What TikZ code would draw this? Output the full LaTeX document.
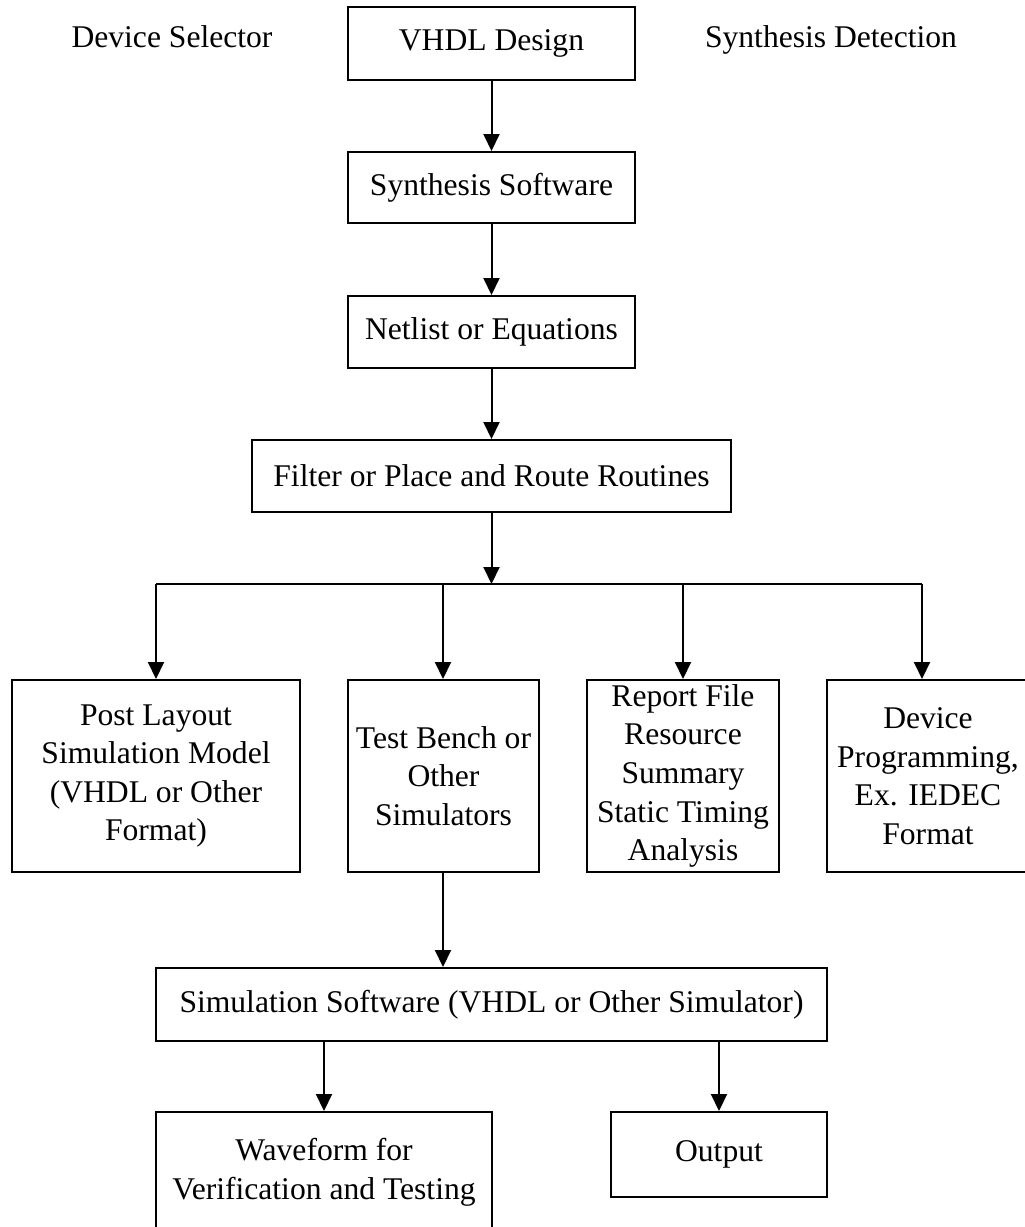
\documentclass[tikz,border=0pt]{standalone}
\usepackage{fontspec}
\setmainfont{Liberation Serif}
\usetikzlibrary{arrows.meta}
\begin{document}
\begin{tikzpicture}[x=0.5pt,y=-0.5pt,
  txt/.style={font=\fontsize{15.8}{19.3}\selectfont},
  box/.style={txt, draw, line width=1pt, align=center, inner sep=0pt},
  lbl/.style={txt, inner sep=0pt, anchor=base},
  wire/.style={line width=1pt},
  link/.style={wire, -{Triangle[length=8.5pt,width=8pt]}}]
\useasboundingbox (0,0) rectangle (1024,1227);

% top annotations
\node[lbl] (devsel) at (172,47) {Device Selector};
\node[lbl] (syndet) at (831,47) {Synthesis Detection};

% main flow
\node[box, minimum width=143.5pt, minimum height=36.5pt] (vhdl)    at (491.5,43.5) {VHDL Design};
\node[box, minimum width=143.5pt, minimum height=35.5pt] (synth)   at (491.5,187.5) {Synthesis Software};
\node[box, minimum width=143.5pt, minimum height=36pt]   (netlist) at (491.5,332) {Netlist or Equations};
\node[box, minimum width=239.5pt, minimum height=36pt]   (filter)  at (491.5,476) {Filter or Place and Route Routines};

% outputs of place and route
\node[box, minimum width=144pt, minimum height=96pt] (post)   at (156,776) {Post Layout\\Simulation Model\\(VHDL or Other\\Format)};
\node[box, minimum width=95.5pt, minimum height=96pt] (test)  at (443.5,776) {Test Bench or\\Other\\Simulators};
\node[box, minimum width=96pt, minimum height=96pt] (report)  at (683,776) {Report File\\Resource\\Summary\\Static Timing\\Analysis};
\node[box, minimum width=101pt, minimum height=96pt] (device) at (928,776) {Device\\Programming,\\Ex. IEDEC\\Format};

% simulation stage
\node[box, minimum width=335.5pt, minimum height=36.5pt] (sim) at (491.5,1004.5) {Simulation Software (VHDL or Other Simulator)};
\node[box, minimum width=168pt, minimum height=60pt] (wave)   at (324,1172) {Waveform for\\Verification and Testing};
\node[box, minimum width=108pt, minimum height=42.5pt] (output) at (719,1154.5) {Output};

% distribution bus
\coordinate (bus)  at (491.5,584);
\coordinate (bus1) at (156,584);
\coordinate (bus2) at (443,584);
\coordinate (bus3) at (683,584);
\coordinate (bus4) at (922,584);

% connectors
\draw[link] (vhdl) -- (synth);
\draw[link] (synth) -- (netlist);
\draw[link] (netlist) -- (filter);
\draw[link] (filter.south) -- (filter.south |- bus);
\draw[wire] (bus1) -- (bus4);
\draw[link] (bus1) -- (bus1 |- post.north);
\draw[link] (bus2) -- (bus2 |- test.north);
\draw[link] (bus3) -- (bus3 |- report.north);
\draw[link] (bus4) -- (bus4 |- device.north);
\draw[link] (test.south -| bus2) -- (bus2 |- sim.north);
\draw[link] (sim.south -| wave.north) -- (wave.north);
\draw[link] (sim.south -| output.north) -- (output.north);
\end{tikzpicture}
\end{document}
